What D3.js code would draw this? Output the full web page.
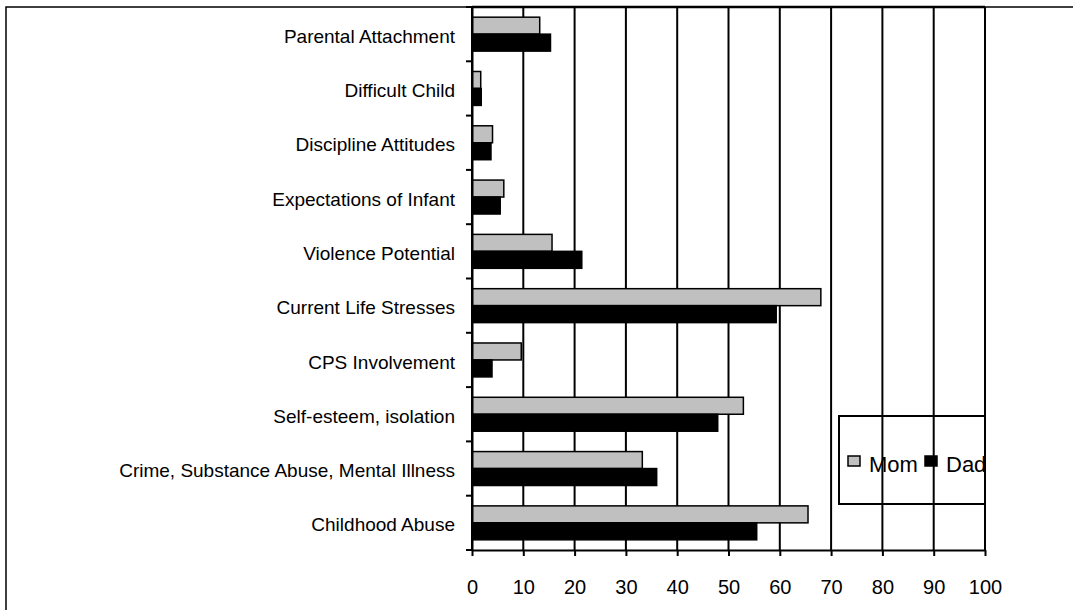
<!DOCTYPE html>
<html>
  <head>
    <meta charset="utf-8">
    <title>Mom and Dad risk factors</title>
    <script src="https://d3js.org/d3.v7.min.js"></script>
    <style>
      body { margin: 0; background: #fff; }
      text { font-family: "Liberation Sans", Arial, sans-serif; fill: #000; }
    </style>
  </head>
  <body>
<svg width="1073" height="610"></svg>
<script>
// chart data (percent)
var categories = [
  "Parental Attachment",
  "Difficult Child",
  "Discipline Attitudes",
  "Expectations of Infant",
  "Violence Potential",
  "Current Life Stresses",
  "CPS Involvement",
  "Self-esteem, isolation",
  "Crime, Substance Abuse, Mental Illness",
  "Childhood Abuse"
];
var seriesNames = ["Mom", "Dad"];
var momValues = [13.2, 1.7, 4.0, 6.2, 15.6, 68.0, 9.6, 52.9, 33.2, 65.5];
var dadValues = [15.3, 1.8, 3.7, 5.5, 21.4, 59.3, 3.9, 47.9, 36.0, 55.5];
var xTicks = [0, 10, 20, 30, 40, 50, 60, 70, 80, 90, 100];

var colors = { Mom: "#c0c0c0", Dad: "#000000" };

var svg = d3.select("svg");

// outer frame (runs past the window on the right and bottom)
svg.append("rect")
    .attr("x", 6).attr("y", 7)
    .attr("width", 1090).attr("height", 640)
    .attr("fill", "none")
    .attr("stroke", "#000")
    .attr("stroke-width", 1.5);

var x = d3.scaleLinear()
    .domain([0, 100])
    .range([472, 985]);

var y = d3.scaleBand()
    .domain(categories)
    .range([7, 550]);

var yInner = d3.scaleBand()
    .domain(seriesNames)
    .range([0, y.bandwidth()])
    .paddingOuter(0.6);

// gridlines
svg.append("g")
  .selectAll("line")
  .data(xTicks)
  .enter().append("line")
    .attr("x1", function(d) { return x(d); })
    .attr("x2", function(d) { return x(d); })
    .attr("y1", y.range()[0])
    .attr("y2", y.range()[1])
    .attr("stroke", "#000")
    .attr("stroke-width", 2);

// top edge of the plot area
svg.append("line")
    .attr("x1", x(0)).attr("x2", x(100))
    .attr("y1", 7).attr("y2", 7)
    .attr("stroke", "#000")
    .attr("stroke-width", 2.5);

// bars
var rows = categories.map(function(c, i) {
  return { cat: c, values: [
    { name: "Mom", value: momValues[i] },
    { name: "Dad", value: dadValues[i] }
  ] };
});

var groups = svg.append("g")
  .selectAll("g")
  .data(rows)
  .enter().append("g")
    .attr("transform", function(d) { return "translate(0," + y(d.cat) + ")"; });

groups.selectAll("rect")
  .data(function(d) { return d.values; })
  .enter().append("rect")
    .attr("x", x(0))
    .attr("y", function(d) { return yInner(d.name); })
    .attr("width", function(d) { return x(d.value) - x(0); })
    .attr("height", yInner.bandwidth())
    .attr("fill", function(d) { return colors[d.name]; })
    .attr("stroke", "#000")
    .attr("stroke-width", 1.5);

// bottom axis
var xAxis = svg.append("g")
    .attr("transform", "translate(0," + y.range()[1] + ")")
    .call(d3.axisBottom(x)
      .tickValues(xTicks)
      .tickSizeInner(6)
      .tickSizeOuter(0)
      .tickPadding(24));
xAxis.select(".domain").attr("stroke-width", 2);
xAxis.selectAll(".tick line").attr("stroke-width", 2);
xAxis.selectAll("text")
    .attr("font-size", 20)
    .attr("font-family", "Liberation Sans, Arial, sans-serif")
    .attr("fill", "#000");

// left axis: labels at band centres, tick marks at band edges
var yAxis = svg.append("g")
    .attr("transform", "translate(" + x(0) + ",0)")
    .call(d3.axisLeft(y).tickSize(0).tickPadding(17));
yAxis.select(".domain").attr("stroke-width", 2);
yAxis.selectAll("text")
    .attr("font-size", 19)
    .attr("dy", "0.45em")
    .attr("font-family", "Liberation Sans, Arial, sans-serif")
    .attr("fill", "#000");

svg.append("g")
  .selectAll("line")
  .data(categories.map(function(c) { return y(c); }).concat([y.range()[1]]))
  .enter().append("line")
    .attr("x1", x(0) - 6)
    .attr("x2", x(0))
    .attr("y1", function(d) { return d; })
    .attr("y2", function(d) { return d; })
    .attr("stroke", "#000")
    .attr("stroke-width", 2);

// legend
var legend = svg.append("g");
svg.append("clipPath")
    .attr("id", "legendClip")
  .append("rect")
    .attr("x", 839).attr("y", 416)
    .attr("width", 146).attr("height", 88);

legend.append("rect")
    .attr("x", 839).attr("y", 416)
    .attr("width", 146).attr("height", 88)
    .attr("fill", "none")
    .attr("stroke", "#000")
    .attr("stroke-width", 2);

var legendX = { Mom: 848, Dad: 925 };
var items = legend.selectAll(".item")
  .data(seriesNames)
  .enter().append("g")
    .attr("class", "item")
    .attr("clip-path", "url(#legendClip)");

items.append("rect")
    .attr("x", function(d) { return legendX[d]; })
    .attr("y", 456)
    .attr("width", 12)
    .attr("height", 10)
    .attr("fill", function(d) { return colors[d]; })
    .attr("stroke", "#000")
    .attr("stroke-width", 1.5);

items.append("text")
    .attr("x", function(d) { return legendX[d] + 21; })
    .attr("y", 472)
    .attr("font-size", 22)
    .text(function(d) { return d; });
</script>
  </body>
</html>
